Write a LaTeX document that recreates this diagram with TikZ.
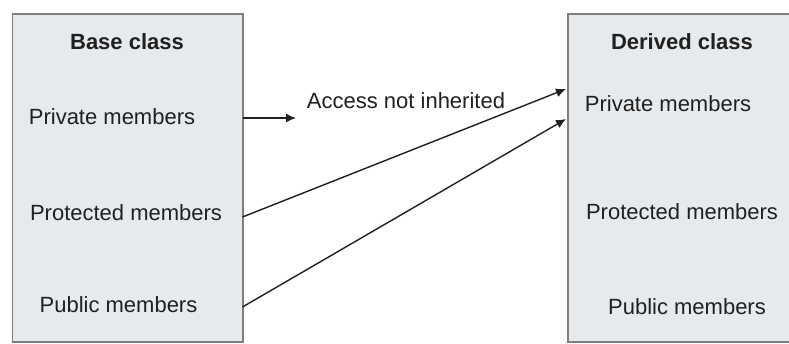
\documentclass[tikz,border=0pt]{standalone}
\usepackage{fontspec}
\setmainfont{Liberation Sans}
\usetikzlibrary{arrows.meta}
\definecolor{boxfill}{HTML}{E7EAED}
\definecolor{boxline}{HTML}{7E7E7E}
\definecolor{ink}{HTML}{202020}
\begin{document}
\begin{tikzpicture}[x=1pt,y=-1pt,
  classbox/.style={draw=boxline,fill=boxfill,line width=1.6pt,inner sep=0pt,anchor=north west},
  lbl/.style={font=\fontsize{22}{26}\selectfont,text=ink,inner sep=0pt,anchor=base},
  ttl/.style={lbl,font=\fontsize{22}{26}\selectfont\bfseries},
  conn/.style={draw=ink,line width=1.4pt,-{Latex[length=10pt,width=9pt]}}]
\useasboundingbox (0,0) rectangle (789,343);
\fill[white] (0,0) rectangle (789,343);
\node[classbox,minimum width=230.5pt,minimum height=328pt] (leftbox) at (11.5,13) {};
\node[classbox,minimum width=240pt,minimum height=328pt] (rightbox) at (567,13) {};
\node[ttl] (base) at (127,49) {Base class};
\node[lbl] (privL) at (112,124) {Private members};
\node[lbl] (protL) at (126,220) {Protected members};
\node[lbl] (pubL) at (118.5,312) {Public members};
\node[ttl] (derived) at (682,49) {Derived class};
\node[lbl] (privR) at (668,111) {Private members};
\node[lbl] (protR) at (682,219) {Protected members};
\node[lbl] (pubR) at (687,314) {Public members};
\node[lbl] (access) at (406,108) {Access not inherited};
\coordinate (a1s) at (242.5,118);
\coordinate (a1e) at (296,118);
\coordinate (a2s) at (242.5,217);
\coordinate (a2e) at (566,89);
\coordinate (a3s) at (242.5,307);
\coordinate (a3e) at (566,119);
\draw[conn] (a1s) -- (a1e);
\draw[conn] (a2s) -- (a2e);
\draw[conn] (a3s) -- (a3e);
\end{tikzpicture}
\end{document}
